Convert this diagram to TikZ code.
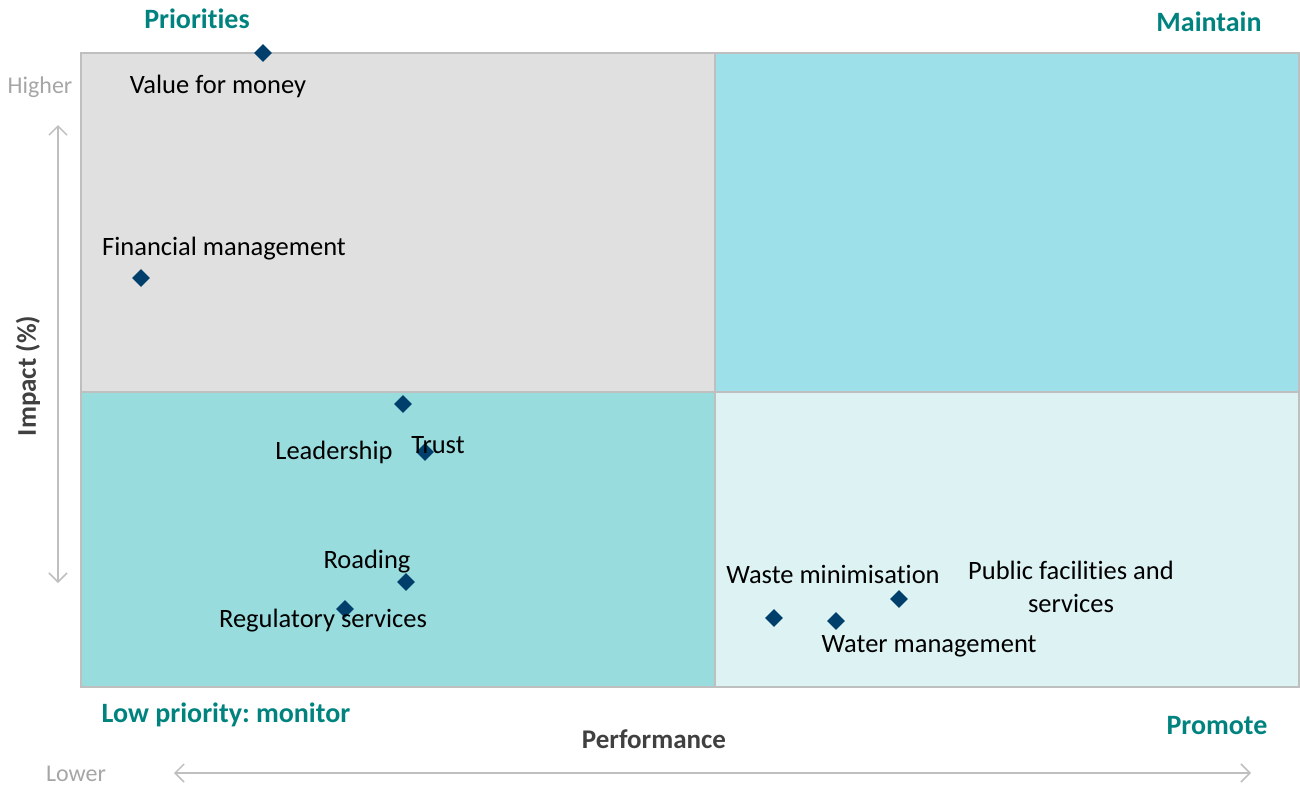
\documentclass[tikz,border=0pt]{standalone}
\usepackage{fontspec}
\setmainfont{Carlito}[Ligatures=NoCommon]
\usetikzlibrary{shapes.geometric,arrows.meta}

\definecolor{quadGrey}{HTML}{E0E0E0}
\definecolor{quadBlue}{HTML}{9DE0E9}
\definecolor{quadTeal}{HTML}{99DCDE}
\definecolor{quadPale}{HTML}{DDF2F3}
\definecolor{headTeal}{HTML}{00837F}
\definecolor{markNavy}{HTML}{003F6B}
\definecolor{axisGrey}{HTML}{BFBFBF}
\definecolor{hintGrey}{HTML}{A6A6A6}
\definecolor{titleGrey}{HTML}{404040}

\newcommand*{\xMin}{81}
\newcommand*{\xMid}{715}
\newcommand*{\xMax}{1299}
\newcommand*{\yMin}{53}
\newcommand*{\yMid}{392}
\newcommand*{\yMax}{687}

\tikzset{
  marker/.style={diamond, fill=markNavy, inner sep=0pt, minimum size=18pt},
  itemlabel/.style={font=\fontsize{26.5}{33}\selectfont, text=black, align=center, inner sep=0pt, yshift=-2pt},
  quadlabel/.style={font=\fontsize{28}{30}\selectfont\bfseries, text=headTeal, inner sep=0pt},
  hint/.style={font=\fontsize{24}{26}\selectfont, text=hintGrey, inner sep=0pt},
  axistitle/.style={font=\fontsize{27}{29}\selectfont\bfseries, text=titleGrey, inner sep=0pt},
  axisarrow/.style={draw=axisGrey, line width=1.5pt, {Straight Barb[length=9pt,width=18pt]}-{Straight Barb[length=9pt,width=18pt]}}
}

\begin{document}
\frenchspacing
\begin{tikzpicture}[x=1pt,y=-1pt]
	\useasboundingbox (0,0) rectangle (1300,787);
	
	% quadrants
	\fill [quadGrey] (\xMin,\yMin) rectangle (\xMid,\yMid);
	\fill [quadBlue] (\xMid,\yMin) rectangle (\xMax,\yMid);
	\fill [quadTeal] (\xMin,\yMid) rectangle (\xMid,\yMax);
	\fill [quadPale] (\xMid,\yMid) rectangle (\xMax,\yMax);
	\draw [axisGrey, line width=2.5pt] (\xMin,\yMin) rectangle (\xMax,\yMax);
	\draw [axisGrey, line width=2pt] (\xMid,\yMin) -- (\xMid,\yMax);
	\draw [axisGrey, line width=2pt] (\xMin,\yMid) -- (\xMax,\yMid);
	
	% axes
	\coordinate (yTop) at (58,125);
	\coordinate (yBot) at (58,583);
	\coordinate (xLeft) at (174,773);
	\coordinate (xRight) at (1251,773);
	\draw [axisarrow] (yBot) -- (yTop);
	\draw [axisarrow] (xLeft) -- (xRight);
	\node [hint] (higher) at (40,87) {Higher};
	\node [hint] (lower) at (76,774) {Lower};
	\node [axistitle] (perf) at (654,739) {Performance};
	\node [axistitle, rotate=90] (impact) at (28,376) {Impact (\%)};
	
	% quadrant names
	\node [quadlabel] (prio) at (197,19) {Priorities};
	\node [quadlabel] (maint) at (1209,22) {Maintain};
	\node [quadlabel] (monitor) at (226,715) {Low priority: monitor};
	\node [quadlabel] (promote) at (1217,726) {Promote};
	
	% data points
	\foreach \name/\x/\y in {vfm/263/53, fin/141/278, lead/403/404, trust/425/452, road/406/582,
		reg/345/609, waste/774/618, water/836/621, pub/899/599} {
		\node [marker] (\name) at (\x,\y) {};
	}
	
	\node [itemlabel] (vfmText) at (218,84) {Value for money};
	\node [itemlabel] (finText) at (224,247) {Financial management};
	\node [itemlabel] (leadText) at (334,450) {Leadership};
	\node [itemlabel] (trustText) at (438,443) {Trust};
	\node [itemlabel] (roadText) at (367,560) {Roading};
	\node [itemlabel] (regText) at (323,619) {Regulatory services};
	\node [itemlabel] (wasteText) at (833,572) {Waste minimisation};
	\node [itemlabel] (waterText) at (929,644) {Water management};
	\node [itemlabel] (pubText) at (1071,585) {Public facilities and\\services};
	
\end{tikzpicture}
\end{document}
